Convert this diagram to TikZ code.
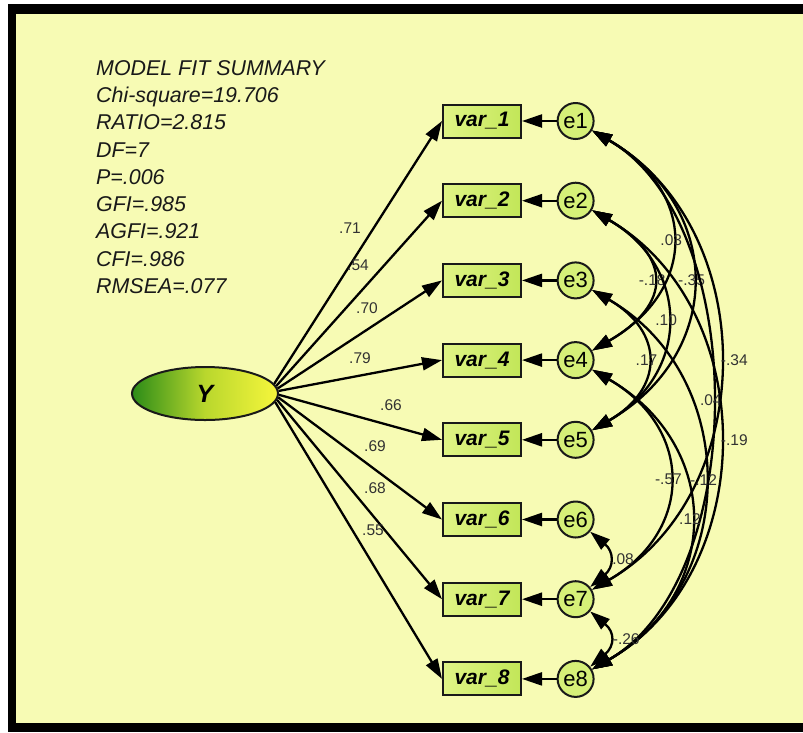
\documentclass[tikz,border=0pt]{standalone}
\usepackage{fontspec}
\setmainfont{Liberation Sans}
\usepackage{tikz}
\usepackage{xcolor}
\usetikzlibrary{shapes,arrows.meta,positioning,calc}
\definecolor{paleyellow}{RGB}{247,251,180}
\definecolor{darkgreen}{RGB}{44,140,24}
\definecolor{midgreen}{RGB}{185,215,45}
\definecolor{lightyellow}{RGB}{246,246,60}
\definecolor{boxlight}{RGB}{224,244,134}
\definecolor{boxgreen}{RGB}{194,230,88}
\definecolor{errfill}{RGB}{214,240,120}
\definecolor{coefgray}{RGB}{50,50,50}

\begin{document}
\begin{tikzpicture}[x=1pt, y=1pt, node distance=44.7pt and 34.6pt,
  >={Triangle[length=20pt,width=13pt]},
  obs/.style={rectangle, draw=black!90, line width=2pt, left color=boxlight, right color=boxgreen, minimum width=78pt, minimum height=33pt, inner sep=0pt, font=\fontsize{21}{21}\selectfont\bfseries\itshape},
  err/.style={circle, draw=black!90, line width=2pt, fill=errfill, minimum size=36pt, inner sep=0pt, font=\fontsize{22}{22}\selectfont},
  regr/.style={->, line width=2.3pt},
  cov/.style={<->, line width=2.3pt, out=-30, in=30},
  coef/.style={text=coefgray, inner sep=1pt, font=\fontsize{15.5}{15.5}\selectfont}]

\useasboundingbox (0,-732) rectangle (803,0);
\fill[white] (0,-732) rectangle (803,0);
\fill[black] (8,-732) rectangle (803,-4);
\fill[paleyellow] (16,-723) rectangle (803,-14);

% fit indices
\node[anchor=north west, inner sep=0pt, align=left, text=black!90, font=\fontsize{21.4}{27.3}\selectfont\itshape] (fit) at (96,-60) {MODEL FIT SUMMARY\\Chi-square=19.706\\RATIO=2.815\\DF=7\\P=.006\\GFI=.985\\AGFI=.921\\CFI=.986\\RMSEA=.077};

% latent variable
\node[ellipse, draw=black!90, line width=2pt, left color=darkgreen, right color=lightyellow, middle color=midgreen, minimum width=146pt, minimum height=53pt, inner sep=0pt, font=\fontsize{25}{25}\selectfont\bfseries\itshape] (Y) at (205,-393.5) {Y};

% observed variables
\node[obs] (var1) at (482,-121) {var\_1};
\node[obs, below=of var1] (var2) {var\_2};
\node[obs, below=of var2] (var3) {var\_3};
\node[obs, below=of var3] (var4) {var\_4};
\node[obs, below=of var4] (var5) {var\_5};
\node[obs, below=of var5] (var6) {var\_6};
\node[obs, below=of var6] (var7) {var\_7};
\node[obs, below=of var7] (var8) {var\_8};

% error terms
\node[err, right=of var1] (e1) {e1};
\node[err, right=of var2] (e2) {e2};
\node[err, right=of var3] (e3) {e3};
\node[err, right=of var4] (e4) {e4};
\node[err, right=of var5] (e5) {e5};
\node[err, right=of var6] (e6) {e6};
\node[err, right=of var7] (e7) {e7};
\node[err, right=of var8] (e8) {e8};

% loadings
\draw[regr] (Y.8) -- (var1.west);
\draw[regr] (Y.6) -- (var2.west);
\draw[regr] (Y.4) -- (var3.west);
\draw[regr] (Y.2) -- (var4.west);
\draw[regr] (Y.-1) -- (var5.west);
\draw[regr] (Y.-3) -- (var6.west);
\draw[regr] (Y.-5) -- (var7.west);
\draw[regr] (Y.-7) -- (var8.west);
\node[coef] (w1) at (350,-228) {.71};
\node[coef] (w2) at (358,-265) {.54};
\node[coef] (w3) at (367,-308) {.70};
\node[coef] (w4) at (360,-358) {.79};
\node[coef] (w5) at (391,-405) {.66};
\node[coef] (w6) at (375,-446) {.69};
\node[coef] (w7) at (375,-488) {.68};
\node[coef] (w8) at (373,-530) {.55};

% errors to indicators
\draw[regr] (e1) -- (var1);
\draw[regr] (e2) -- (var2);
\draw[regr] (e3) -- (var3);
\draw[regr] (e4) -- (var4);
\draw[regr] (e5) -- (var5);
\draw[regr] (e6) -- (var6);
\draw[regr] (e7) -- (var7);
\draw[regr] (e8) -- (var8);

% error covariances
\draw[cov] (e1) to[looseness=1.42] node[coef] (c14) {.03} (e4);
\draw[cov] (e1) to[looseness=1.31] node[coef] (c15) {-.35} (e5);
\draw[cov] (e2) to[looseness=1.69] node[coef] (c24) {-.18} (e4);
\draw[cov] (e2) to[looseness=1.33] node[coef] (c25) {.10} (e5);
\draw[cov] (e3) to[looseness=1.53] node[coef] (c35) {.17} (e5);
\draw[cov] (e1) to[looseness=1.09] node[coef, right] (c17) {-.34} (e7);
\draw[cov] (e1) to[looseness=0.87] node[coef] (c18) {.04} (e8);
\draw[cov] (e2) to[looseness=1.09] node[coef, right] (c28) {-.19} (e8);
\draw[cov] (e3) to[looseness=1.16] node[coef] (c38) {-.12} (e8);
\draw[cov] (e4) to[looseness=1.37] node[coef] (c47) {-.57} (e7);
\draw[cov] (e4) to[looseness=1.29] node[coef] (c48) {.12} (e8);
\draw[cov] (e6) to[out=-40, in=40, looseness=1.45] node[coef, right, xshift=2pt] (c67) {.08} (e7);
\draw[cov] (e7) to[out=-40, in=40, looseness=1.5] node[coef, right, xshift=2pt] (c78) {-.26} (e8);
\end{tikzpicture}
\end{document}
